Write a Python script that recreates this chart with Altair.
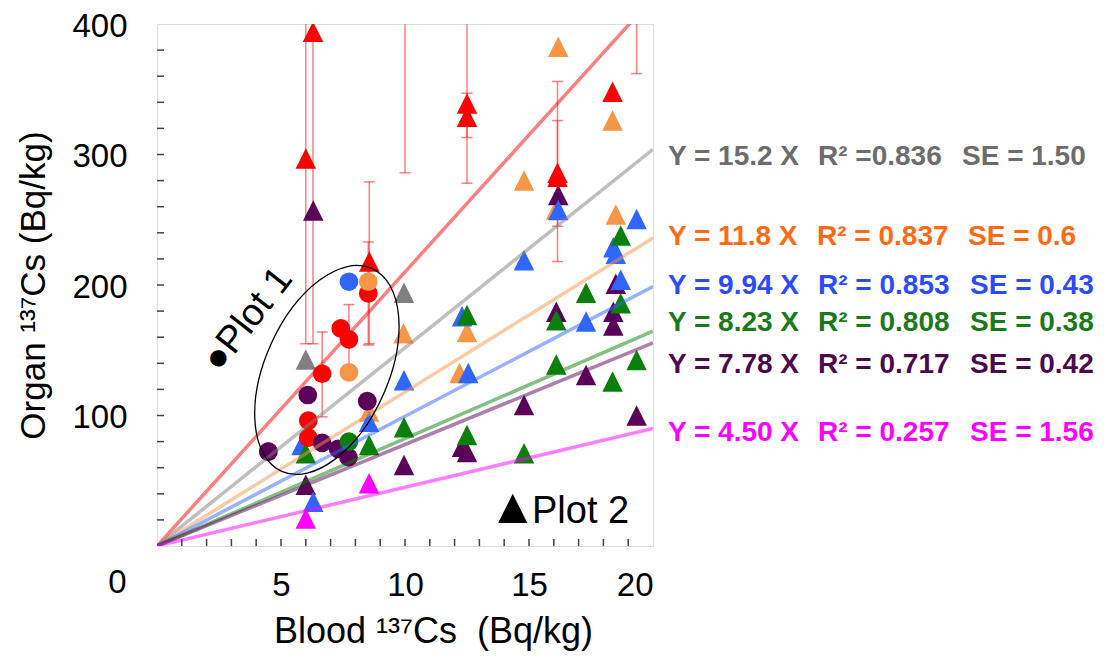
import altair as alt
import pandas as pd

FONT = "Liberation Sans"

# ---------------- series definitions ----------------
groups = ["red", "gray", "orange", "blue", "green", "purple", "magenta"]
marker_colors = ["#ff0000", "#808080", "#f79646", "#2f66ff", "#0a800a", "#5a005a", "#ff00ff"]
slopes = [21.0, 15.2, 11.8, 9.94, 8.23, 7.78, 4.50]

# ---------------- Plot 1 (circles) ----------------
circ_group = ["red", "red", "red", "red", "red", "red", "red",
              "purple", "purple", "purple", "purple", "purple", "purple",
              "green", "orange", "orange", "blue"]
circ_x = [4.49, 6.10, 6.10, 6.66, 7.41, 7.74, 8.52,
          4.49, 6.08, 8.48, 6.66, 7.72, 7.30,
          7.74, 8.52, 7.74, 7.74]
circ_y = [72.3, 96.0, 83.0, 132.0, 166.8, 158.4, 193.6,
          72.3, 115.7, 111.0, 79.0, 68.0, 74.5,
          80.0, 202.5, 133.0, 202.5]

# ---------------- Plot 2 (triangles) ----------------
tri_group = (["gray"] * 2 + ["orange"] * 9 + ["purple"] * 13 + ["blue"] * 13
             + ["green"] * 13 + ["magenta"] * 2 + ["red"] * 10)
tri_x = [6.0, 9.96,
         16.18, 18.37, 14.8, 18.5, 9.94, 12.5, 12.2, 8.55, 16.1,
         6.3, 16.18, 9.96, 12.3, 12.5, 14.8, 16.1, 17.3, 18.5, 18.4, 18.4, 19.34, 6.0,
         16.18, 19.34, 18.4, 18.5, 14.8, 9.96, 12.3, 12.55, 8.55, 5.83, 6.3, 17.3, 18.7,
         18.7, 9.96, 12.5, 12.5, 14.8, 16.1, 16.1, 17.3, 18.7, 18.37, 19.34, 8.55, 6.0,
         6.0, 8.55,
         6.0, 6.29, 8.56, 12.5, 12.5, 16.15, 16.15, 18.37, 10.0, 19.34]
tri_y = [143.0, 194.0,
         382.6, 326.0, 280.0, 254.0, 163.0, 164.0, 132.5, 103.0, 258.0,
         257.0, 269.0, 62.0, 76.0, 72.0, 108.0, 179.5, 131.0, 201.0, 179.5, 169.0, 100.0, 47.0,
         257.5, 250.6, 229.0, 224.0, 219.0, 127.0, 176.0, 132.5, 95.2, 77.4, 34.0, 172.0, 204.0,
         238.0, 91.0, 177.0, 85.0, 71.0, 173.0, 139.0, 194.0, 186.0, 126.0, 142.5, 77.4, 71.0,
         21.0, 48.0,
         297.0, 394.0, 218.0, 339.0, 329.0, 286.0, 283.0, 348.0, 460.0, 480.0]

# ---------------- error bars (red points) ----------------
err_x = [6.0, 6.29, 8.56, 8.52, 6.66, 7.74, 10.0, 12.5, 12.5, 16.15, 16.15, 19.34]
err_lo = [155.0, 155.0, 155.0, 154.0, 99.0, 132.0, 286.0, 278.0, 313.0, 218.0, 245.0, 362.0]
err_hi = [440.0, 633.0, 279.0, 233.0, 164.0, 185.0, 640.0, 410.0, 347.0, 356.0, 326.0, 600.0]

# ---------------- axis ticks ----------------
x_label_vals = [5, 10, 15, 20]
y_label_vals = [100, 200, 300, 400]
x_minor = list(range(1, 20))
y_minor = list(range(20, 400, 20))

# ---------------- equation labels ----------------
eq_colors = ["#6d6d6d", "#ff6a13", "#2b4bff", "#1a7a1a", "#4b0a4b", "#ff00ff"]
eq_part1 = ["Y = 15.2 X", "Y = 11.8 X", "Y = 9.94 X", "Y = 8.23 X", "Y = 7.78 X", "Y = 4.50 X"]
eq_part2 = ["R² =0.836", "R² = 0.837", "R² = 0.853", "R² = 0.808", "R² = 0.717", "R² = 0.257"]
eq_part3 = ["SE = 1.50", "SE = 0.6", "SE = 0.43", "SE = 0.38", "SE = 0.42", "SE = 1.56"]

# ---------------- build tables ----------------
circ_df = pd.DataFrame({"x": circ_x, "y": circ_y, "group": circ_group})
tri_df = pd.DataFrame({"x": tri_x, "y": tri_y, "group": tri_group})
err_df = pd.DataFrame({"x": err_x, "y": err_lo, "hi": err_hi})
cap_df = pd.DataFrame({"x": err_x + err_x, "y": err_lo + err_hi})
line_rows = []
for g, k in zip(groups, slopes):
    line_rows.append({"x": 0.0, "y": 0.0, "group": g})
    line_rows.append({"x": 20.0, "y": 20.0 * k, "group": g})
line_df = pd.DataFrame(line_rows)

xscale = alt.Scale(domain=[0, 20], nice=False, zero=False)
yscale = alt.Scale(domain=[0, 400], nice=False, zero=False)
color = alt.Color("group:N", scale=alt.Scale(domain=groups, range=marker_colors), legend=None)

x_axis = alt.Axis(values=x_label_vals, title="Blood ¹³⁷Cs\u00a0\u00a0(Bq/kg)", grid=False,
                  ticks=False, tickSize=0, domain=False, labelFontSize=33, labelPadding=23,
                  labelFont=FONT, labelColor="black", titleFont=FONT, titleFontSize=36,
                  titleFontWeight="normal", titleColor="black", titlePadding=12,
                  titleX=276, titleAlign="center")
y_axis = alt.Axis(values=y_label_vals, title="Organ ¹³⁷Cs (Bq/kg)", grid=False,
                  ticks=False, tickSize=0, domain=False, labelFontSize=33, labelPadding=30,
                  labelOffset=2, labelFont=FONT, labelColor="black", titleFont=FONT, titleFontSize=35,
                  titleFontWeight="normal", titleColor="black", titlePadding=20)

X = alt.X("x:Q", scale=xscale, axis=x_axis)
Y = alt.Y("y:Q", scale=yscale, axis=y_axis)

err_rules = alt.Chart(err_df).mark_rule(color="#ff2a2a", strokeWidth=1.5, opacity=0.6, clip=True).encode(
    x=X, y=Y, y2="hi:Q")
err_caps = alt.Chart(cap_df).mark_tick(orient="horizontal", color="#ff2a2a", size=11, thickness=1.5,
                                       opacity=0.6, clip=True).encode(x=X, y=Y)

TRIANGLE = "M0,-1 L1,1 L-1,1 Z"
triangles = alt.Chart(tri_df).mark_point(shape=TRIANGLE, filled=True, size=420, opacity=1,
                                          clip=True).encode(x=X, y=Y, color=color)
circles = alt.Chart(circ_df).mark_point(shape="circle", filled=True, size=350, opacity=1,
                                        clip=True).encode(x=X, y=Y, color=color)

reg_lines = alt.Chart(line_df).mark_line(strokeWidth=3.5, opacity=0.5, clip=True).encode(
    x=X, y=Y, color=color, detail="group:N")

ELLIPSE = "M0,-1 A0.555,1 0 1,1 0,1 A0.555,1 0 1,1 0,-1 Z"
ellipse = alt.Chart(pd.DataFrame({"x": [6.85], "y": [134.9]})).mark_point(
    shape=ELLIPSE, size=49284, angle=24, filled=False, color="black", strokeWidth=1.3, opacity=1
).encode(x=X, y=Y)

one = pd.DataFrame({"k": [0]})
y_ticks = alt.Chart(pd.DataFrame({"y": y_minor})).mark_rule(color="#444", strokeWidth=1.5).encode(
    y=Y, x=alt.value(0), x2=alt.value(7))
x_ticks = alt.Chart(pd.DataFrame({"x": x_minor})).mark_rule(color="#444", strokeWidth=1.5).encode(
    x=X, y=alt.value(522), y2=alt.value(515))

texts = [
    alt.Chart(one).mark_text(text="0", font=FONT, fontSize=33, color="black", align="center",
                             baseline="middle").encode(x=alt.value(-39.5), y=alt.value(559)),
    alt.Chart(one).mark_text(text="●Plot 1", font=FONT, fontSize=38, color="black", align="center",
                             baseline="middle", angle=308).encode(x=alt.value(91), y=alt.value(296)),
    alt.Chart(one).mark_text(text="▲", font=FONT, fontSize=50, color="black", align="left",
                             baseline="alphabetic").encode(x=alt.value(331), y=alt.value(499)),
    alt.Chart(one).mark_text(text="Plot 2", font=FONT, fontSize=38, color="black", align="left",
                             baseline="alphabetic").encode(x=alt.value(375), y=alt.value(499)),
]
eq_y = [133, 213, 262, 299, 341, 409]
part_x = [[511, 661, 805], [511, 660, 811], [511, 661, 813], [511, 661, 813], [511, 661, 813], [511, 661, 813]]
for i in range(len(eq_colors)):
    for j, parts in enumerate([eq_part1, eq_part2, eq_part3]):
        texts.append(alt.Chart(one).mark_text(text=parts[i], font=FONT, fontSize=28, fontWeight="bold",
                                              color=eq_colors[i], align="left", baseline="middle").encode(
            x=alt.value(part_x[i][j]), y=alt.value(eq_y[i])))

chart = alt.layer(err_rules, err_caps, triangles, circles, reg_lines, ellipse, y_ticks, x_ticks, *texts).properties(
    width=496, height=522,
    padding={"left": 149, "top": 16, "right": 443, "bottom": 110},
    autosize=alt.AutoSizeParams(type="none"),
).configure_view(stroke="#444", strokeWidth=2).configure(font=FONT)

chart.save("out.html", embed_options={"renderer": "svg", "actions": False})
